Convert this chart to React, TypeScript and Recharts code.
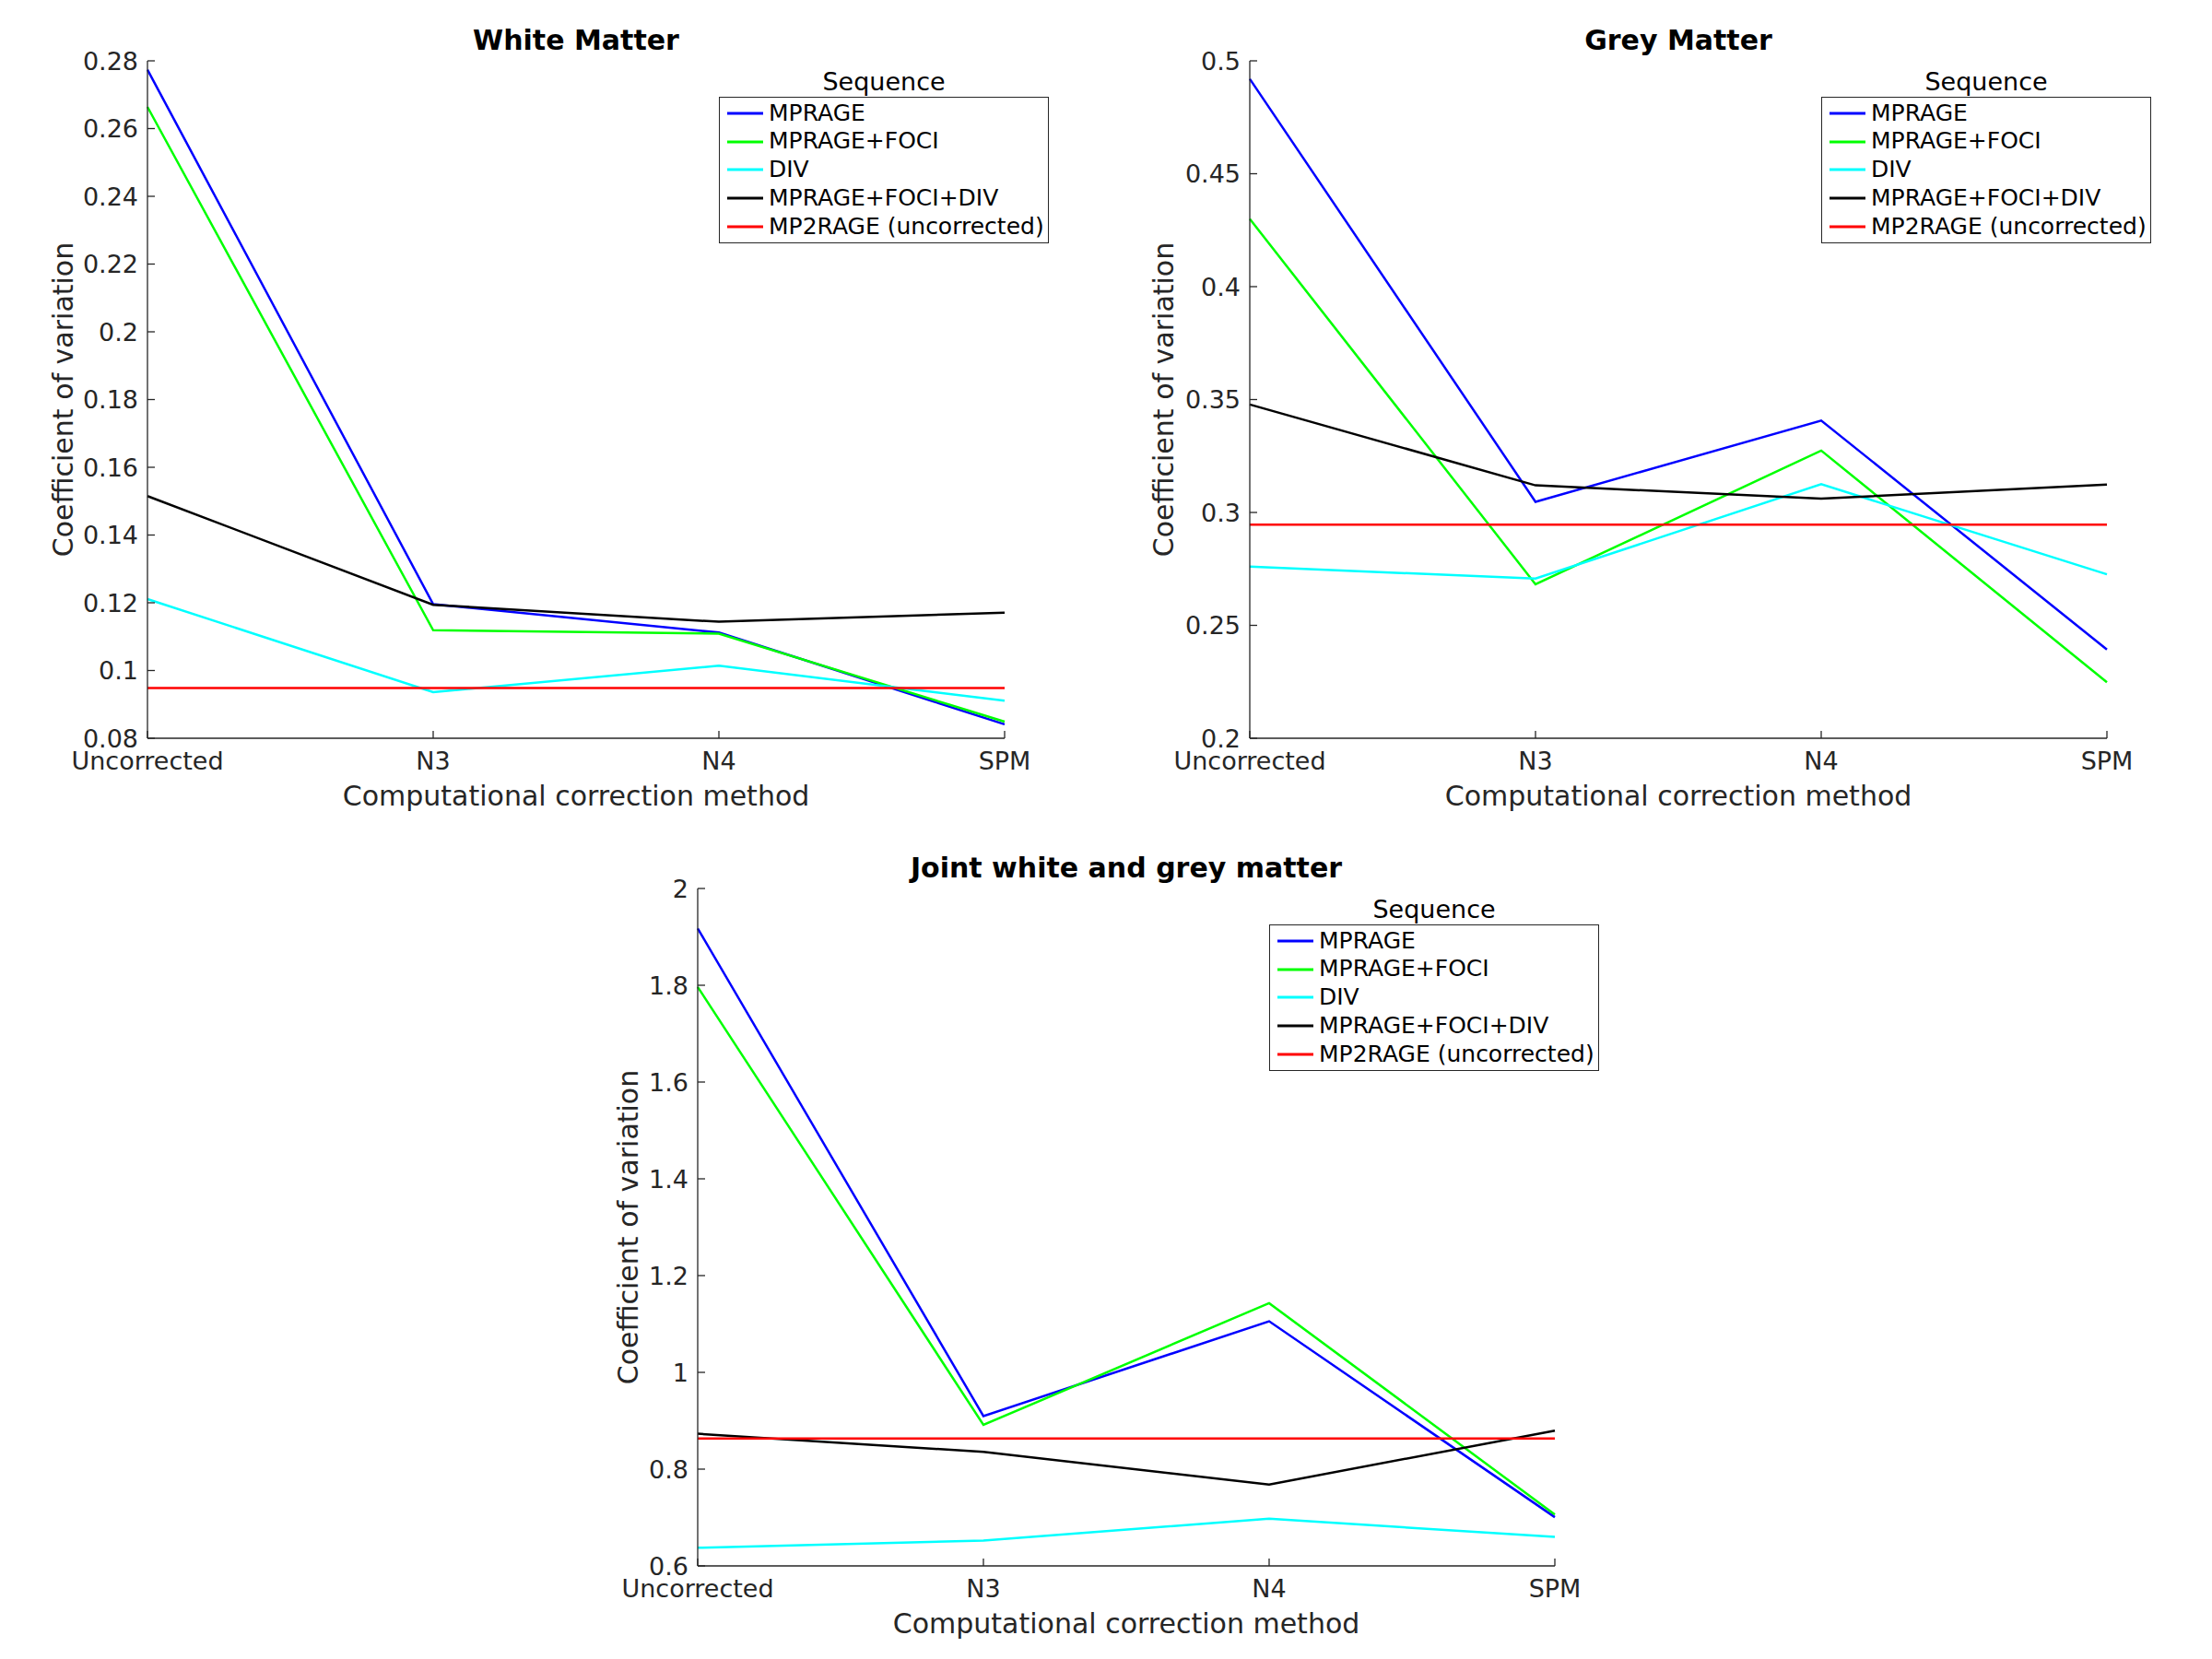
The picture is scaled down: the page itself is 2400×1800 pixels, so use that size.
import React from 'react';
import { LineChart, Line, XAxis, YAxis, Legend, Customized } from 'recharts';

const categories = ['Uncorrected', 'N3', 'N4', 'SPM'];

const seriesNames = ['MPRAGE', 'MPRAGE+FOCI', 'DIV', 'MPRAGE+FOCI+DIV', 'MP2RAGE (uncorrected)'];
const seriesColors = ['#0000ff', '#00ff00', '#00ffff', '#000000', '#ff0000'];

// White matter
const wmMprage = [0.2774, 0.1196, 0.1112, 0.0841];
const wmFoci = [0.2664, 0.1119, 0.1109, 0.0849];
const wmDiv = [0.1211, 0.0936, 0.1014, 0.0911];
const wmFociDiv = [0.1515, 0.1194, 0.1144, 0.1171];
const wmMp2rage = [0.0948, 0.0948, 0.0948, 0.0948];
const wmTicks = [0.08, 0.1, 0.12, 0.14, 0.16, 0.18, 0.2, 0.22, 0.24, 0.26, 0.28];

// Grey matter
const gmMprage = [0.492, 0.3047, 0.3407, 0.2393];
const gmFoci = [0.43, 0.2682, 0.3274, 0.2248];
const gmDiv = [0.276, 0.2707, 0.3125, 0.2726];
const gmFociDiv = [0.3478, 0.312, 0.3061, 0.3123];
const gmMp2rage = [0.2946, 0.2946, 0.2946, 0.2946];
const gmTicks = [0.2, 0.25, 0.3, 0.35, 0.4, 0.45, 0.5];

// Joint white and grey matter
const jMprage = [1.9175, 0.9096, 1.1056, 0.7007];
const jFoci = [1.7965, 0.8914, 1.1431, 0.706];
const jDiv = [0.6375, 0.6525, 0.6975, 0.66];
const jFociDiv = [0.8732, 0.8357, 0.7682, 0.8796];
const jMp2rage = [0.8635, 0.8635, 0.8635, 0.8635];
const jTicks = [0.6, 0.8, 1, 1.2, 1.4, 1.6, 1.8, 2];

const FONT = 'DejaVu Sans';
const AXIS = '#262626';

const fmt = (v: number) => String(Number(v.toFixed(2)));

function buildRows(series: number[][]) {
  return categories.map((c, i) => {
    const row: Record<string, any> = { method: c };
    series.forEach((s, k) => {
      row['s' + k] = s[i];
    });
    return row;
  });
}

const SequenceLegend = ({ payload }: any) => {
  // keep the plotting order, not alphabetical
  const items = [...(payload || [])].sort(
    (a: any, b: any) => seriesNames.indexOf(a.value) - seriesNames.indexOf(b.value)
  );
  return (
    <div style={{ width: 358, fontFamily: FONT, color: '#000' }}>
      <div style={{ textAlign: 'center', fontSize: 27, lineHeight: '32px', height: 32 }}>Sequence</div>
      <div
        style={{
          border: `1.5px solid ${AXIS}`,
          height: 159,
          boxSizing: 'border-box',
          paddingTop: 1.5,
          background: '#fff',
        }}
      >
        {items.map((p: any) => (
          <div key={p.value} style={{ display: 'flex', alignItems: 'center', height: 30.8 }}>
            <svg width={49} height={10} style={{ flex: 'none' }}>
              <line x1={8} x2={47} y1={5} y2={5} stroke={p.color} strokeWidth={3} />
            </svg>
            <span style={{ marginLeft: 4, fontSize: 25, lineHeight: '30.8px', whiteSpace: 'nowrap' }}>{p.value}</span>
          </div>
        ))}
      </div>
    </div>
  );
};

type PanelProps = {
  title: string;
  series: number[][];
  ticks: number[];
  left: number;
  top: number;
  plotL: number;
  plotR: number;
  plotT: number;
  plotB: number;
  yLabelGap: number;
};

function Panel({ title, series, ticks, left, top, plotL, plotR, plotT, plotB, yLabelGap }: PanelProps) {
  const width = 1200;
  const height = 900;
  const xAxisH = 90;
  const data = buildRows(series);
  const cx = (plotL + plotR) / 2;

  return (
    <div style={{ position: 'absolute', left, top, width, height }}>
      <LineChart
        width={width}
        height={height}
        data={data}
        margin={{ top: plotT, right: width - plotR, bottom: height - plotB - xAxisH, left: 0 }}
        style={{ fontFamily: FONT }}
      >
        <XAxis
          dataKey="method"
          scale="point"
          padding={{ left: 0, right: 0 }}
          interval={0}
          height={xAxisH}
          tickSize={-8}
          tickMargin={23}
          stroke={AXIS}
          strokeWidth={1.3}
          tick={{ fontSize: 27, fill: AXIS, fontFamily: FONT }}
          label={(p: any) => {
            const vb = p.viewBox || {};
            return (
              <text x={vb.x + vb.width / 2} y={vb.y + 73} textAnchor="middle" fontSize={30} fill={AXIS} fontFamily={FONT}>
                Computational correction method
              </text>
            );
          }}
        />
        <YAxis
          type="number"
          domain={[ticks[0], ticks[ticks.length - 1]]}
          ticks={ticks}
          interval={0}
          width={plotL}
          tickSize={-8}
          tickMargin={18}
          tickFormatter={fmt}
          stroke={AXIS}
          strokeWidth={1.3}
          tick={{ fontSize: 27, fill: AXIS, fontFamily: FONT }}
          label={(p: any) => {
            const vb = p.viewBox || {};
            const x = vb.x + vb.width - yLabelGap;
            const y = vb.y + vb.height / 2;
            return (
              <text
                x={x}
                y={y}
                transform={`rotate(-90 ${x} ${y})`}
                textAnchor="middle"
                dominantBaseline="central"
                fontSize={30}
                fill={AXIS}
                fontFamily={FONT}
              >
                Coefficient of variation
              </text>
            );
          }}
        />
        {series.map((_, k) => (
          <Line
            key={k}
            type="linear"
            dataKey={'s' + k}
            name={seriesNames[k]}
            stroke={seriesColors[k]}
            strokeWidth={2.5}
            dot={false}
            activeDot={false}
            isAnimationActive={false}
          />
        ))}
        <Legend
          layout="vertical"
          align="center"
          verticalAlign="middle"
          itemSorter={null as any}
          content={SequenceLegend}
          wrapperStyle={{ left: plotR + 48 - 358, top: plotT + 7, width: 358 }}
        />
        <Customized
          component={() => (
            <text x={cx} y={plotT - 12} textAnchor="middle" fontSize={30} fontWeight="bold" fill="#000" fontFamily={FONT}>
              {title}
            </text>
          )}
        />
      </LineChart>
    </div>
  );
}

export default function App() {
  return (
    <div style={{ position: 'absolute', left: 0, top: 0, width: 2400, height: 1800, background: '#fff' }}>
      <Panel
        title="White Matter"
        series={[wmMprage, wmFoci, wmDiv, wmFociDiv, wmMp2rage]}
        ticks={wmTicks}
        left={0}
        top={0}
        plotL={160}
        plotR={1090}
        plotT={66}
        plotB={801}
        yLabelGap={92}
      />
      <Panel
        title="Grey Matter"
        series={[gmMprage, gmFoci, gmDiv, gmFociDiv, gmMp2rage]}
        ticks={gmTicks}
        left={1200}
        top={0}
        plotL={156}
        plotR={1086}
        plotT={66}
        plotB={801}
        yLabelGap={94}
      />
      <Panel
        title="Joint white and grey matter"
        series={[jMprage, jFoci, jDiv, jFociDiv, jMp2rage]}
        ticks={jTicks}
        left={600}
        top={900}
        plotL={157}
        plotR={1087}
        plotT={64}
        plotB={799}
        yLabelGap={76}
      />
    </div>
  );
}
